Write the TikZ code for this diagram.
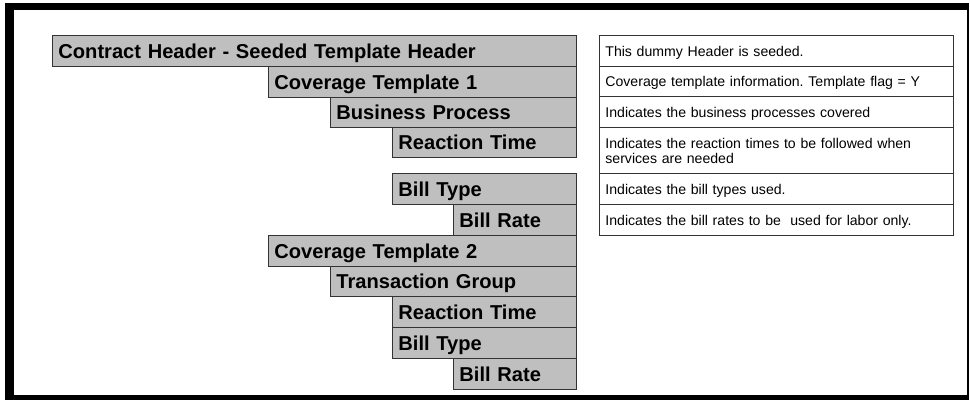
\documentclass[tikz,border=0pt]{standalone}
\usepackage{fontspec}
\setmainfont{Liberation Sans}
\frenchspacing
\begin{document}
\begin{tikzpicture}[x=1pt,y=-1pt,
  lbl/.style={draw=black!80, fill=black!25, line width=0.9pt, anchor=north west,
    inner xsep=6pt, inner ysep=0pt, align=left,
    font=\bfseries\fontsize{20.1}{22}\selectfont, text height=14.4pt, text depth=0pt},
  cell/.style={draw=black!80, fill=white, line width=0.8pt, anchor=north west,
    inner xsep=6pt, inner ysep=0pt, align=left, text width=342pt,
    font=\frenchspacing\fontsize{14.1}{15}\selectfont, text height=10.2pt, text depth=0pt}]
\useasboundingbox (0,0) rectangle (970,400);
\fill[white] (0,0) rectangle (970,400);
% frame
\fill[black] (5,3) rectangle (969,400);
\fill[white] (14,10) rectangle (967,395);
% left hierarchy
\node[lbl, text width=512pt, minimum height=31pt] (l1) at (52,35) {Contract Header - Seeded Template Header};
\node[lbl, text width=296pt, minimum height=31pt] (l2) at (268,66) {Coverage Template 1};
\node[lbl, text width=234pt, minimum height=30pt] (l3) at (330,97) {Business Process};
\node[lbl, text width=172pt, minimum height=30pt] (l4) at (392,127) {Reaction Time};
\node[lbl, text width=172pt, minimum height=31pt] (l5) at (392,173) {Bill Type};
\node[lbl, text width=111pt, minimum height=31pt] (l6) at (453,204) {Bill Rate};
\node[lbl, text width=296pt, minimum height=31pt] (l7) at (268,235) {Coverage Template 2};
\node[lbl, text width=234pt, minimum height=30pt] (l8) at (330,266) {Transaction Group};
\node[lbl, text width=172pt, minimum height=31pt] (l9) at (392,296) {Reaction Time};
\node[lbl, text width=172pt, minimum height=31pt] (l10) at (392,327) {Bill Type};
\node[lbl, text width=111pt, minimum height=31pt] (l11) at (453,358) {Bill Rate};
% description table
\node[cell, minimum height=31pt] (t1) at (599,35) {This dummy Header is seeded.};
\node[cell, minimum height=30pt] (t2) at (599,66) {Coverage template information. Template flag = Y};
\node[cell, minimum height=31pt] (t3) at (599,96) {Indicates the business processes covered};
\node[cell, minimum height=46pt, text depth=15pt] (t4) at (599,127) {Indicates the reaction times to be followed when\\services are needed};
\node[cell, minimum height=31pt] (t5) at (599,173) {Indicates the bill types used.};
\node[cell, minimum height=31pt] (t6) at (599,204) {Indicates the bill rates to be\ \ used for labor only.};
\end{tikzpicture}
\end{document}
